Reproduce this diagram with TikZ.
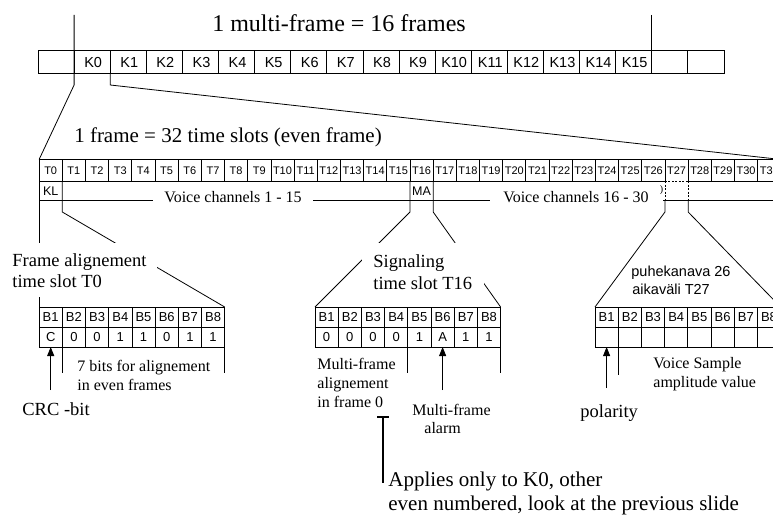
\documentclass[tikz,border=0pt]{standalone}
\usepackage{fontspec}
\setmainfont{Liberation Serif}
\newfontfamily\arialf{Liberation Sans}
\usetikzlibrary{arrows.meta}
\newcommand\fsz[1]{\fontsize{#1}{#1}\selectfont}
\begin{document}
\begin{tikzpicture}[x=1pt,y=-1pt,line width=0.8pt,
  klab/.style={font=\arialf\fsz{14.5},inner sep=0pt},
  tlab/.style={font=\arialf\fsz{11},inner sep=0pt},
  slab/.style={font=\arialf\fsz{12.5},inner sep=0pt},
  blab/.style={font=\arialf\fsz{13},inner sep=0pt},
  sanstxt/.style={font=\arialf\fsz{14.5},inner sep=0pt,anchor=base west},
  bigtxt/.style={font=\fsz{18.5},inner sep=0pt,anchor=base west},
  midtxt/.style={font=\fsz{16},inner sep=0pt,anchor=base west},
  hugetxt/.style={font=\fsz{21},inner sep=0pt,anchor=base west},
  uparrow/.style={-{Triangle[length=9pt,width=7pt]}},
  bar/.style={line width=2pt}]
\useasboundingbox (0,0) rectangle (773,519);
\fill[white] (0,0) rectangle (773,519);

% ---------- multi-frame row ----------
\foreach \i in {0,...,18}{
  \draw ({38+\i*36.1},50.7) rectangle ({38+(\i+1)*36.1},73.7);
}
\foreach \i in {0,...,15}{
  \node[klab] (k\i) at ({39+(\i+1.5)*36.1},62.2) {K\i};
}
\node[font=\fsz{24},inner sep=0pt,anchor=base] (title) at (339,31.5) {1 multi-frame = 16 frames};

\coordinate (ltop) at (74.1,15);
\coordinate (lbend) at (74.1,85);
\coordinate (rtop) at (651.7,15);
\coordinate (rbot) at (651.7,50.7);
\coordinate (k1b) at (110.2,73.7);
\coordinate (k1bend) at (110.2,85);
\coordinate (tleft) at (39.1,159.5);
\coordinate (tright) at (780.9,159.5);
\draw (ltop) -- (lbend) -- (tleft);
\draw (rtop) -- (rbot);
\draw (k1b) -- (k1bend) -- (tright);

\node[font=\fsz{21},inner sep=0pt,anchor=base] (ftitle) at (228,142) {1 frame = 32 time slots (even frame)};

% ---------- time slot row ----------
\draw (tleft) -- (tright);
\foreach \i in {0,...,32}{
  \draw ({39.1+\i*23.18},159.5) -- ({39.1+\i*23.18},181);
}
\foreach \i in {0,...,31}{
  \node[tlab] (t\i) at ({39.1+(\i+0.5)*23.18},170.3) {T\i};
}
\coordinate (t27a) at (664.96,181);
\coordinate (t27b) at (688.14,181);
\draw (39.1,181) -- (t27a);
\draw[dashed,line width=0.6pt,dash pattern=on 2pt off 1.5pt] (t27a) -- (t27b);
\draw (t27b) -- (780.9,181);

% second row
\coordinate (kl1) at (62.28,181);
\coordinate (kl1b) at (62.28,212);
\coordinate (ma0) at (410,181);
\coordinate (ma0b) at (410,212);
\coordinate (ma1) at (433.18,181);
\coordinate (ma1b) at (433.18,212);
\coordinate (d0m) at (664.96,200.5);
\coordinate (d0b) at (664.96,212);
\coordinate (d1m) at (688.14,200.5);
\coordinate (d1b) at (688.14,212);

\coordinate (atl) at (39.1,307);
\coordinate (atr) at (224.7,307);
\coordinate (btl) at (315,307);
\coordinate (btr) at (500.6,307);
\coordinate (ctl) at (595,307);
\coordinate (ctr) at (780.6,307);

\draw (39.1,181) -- (atl);
\draw (kl1) -- (kl1b) -- (atr);
\draw (ma0) -- (ma0b) -- (btl);
\draw (ma1) -- (ma1b) -- (btr);
\draw[dashed,line width=0.6pt,dash pattern=on 2pt off 1.5pt] (t27a) -- (d0m);
\draw[dashed,line width=0.6pt,dash pattern=on 2pt off 1.5pt] (t27b) -- (d1m);
\draw (d0m) -- (d0b) -- (ctl);
\draw (d1m) -- (d1b) -- (ctr);

\draw (39.1,200.5) -- (153,200.5);
\draw (313,200.5) -- (490,200.5);
\draw (663,200.5) -- (780.9,200.5);

\node[slab] (kl) at (50.7,191) {KL};
\node[slab] (ma) at (421.6,191) {MA};
\node[font=\fsz{10},inner sep=0pt] (paren) at (661.5,190.5) {)};
\node[font=\fsz{16},inner sep=0pt,anchor=base] (vc1) at (233,202) {Voice channels 1 - 15};
\node[font=\fsz{16},inner sep=0pt,anchor=base] (vc2) at (576,202) {Voice channels 16 - 30};

% ---------- text blocks covering lines ----------
\fill[white] (3,243) rectangle (157,297);
\node[bigtxt] (fa1) at (12,266) {Frame alignement};
\node[bigtxt] (fa2) at (12,287.3) {time slot T0};
\fill[white] (362,243) rectangle (484,295);
\node[bigtxt] (sg1) at (373,267) {Signaling};
\node[bigtxt] (sg2) at (373,289.5) {time slot T16};
\node[sanstxt] (pk1) at (631,276) {puhekanava 26};
\node[sanstxt] (pk2) at (632,294) {aikaväli T27};

% ---------- bit boxes ----------
\foreach \bx/\nm in {39.1/a,315/b,595/c}{
  \foreach \j in {0,...,7}{
    \draw ({\bx+\j*23.2},307) rectangle ({\bx+(\j+1)*23.2},347);
    \draw ({\bx+\j*23.2},327) -- ({\bx+(\j+1)*23.2},327);
    \pgfmathtruncatemacro\bn{\j+1}
    \node[blab] (\nm b\bn) at ({\bx+(\j+0.5)*23.2},317) {B\bn};
  }
}
\foreach \v [count=\j from 0] in {C,0,0,1,1,0,1,1}{
  \node[blab] (av\j) at ({39.1+(\j+0.5)*23.2},337) {\v};
}
\foreach \v [count=\j from 0] in {0,0,0,0,1,A,1,1}{
  \node[blab] (bv\j) at ({315+(\j+0.5)*23.2},337) {\v};
}

% brackets below boxes
\draw (62.3,347) -- (62.3,373);
\draw (224.7,347) -- (224.7,373);
\draw (407.8,347) -- (407.8,373);
\draw (500.6,347) -- (500.6,373);
\draw (618.2,347) -- (618.2,375);

% arrows
\coordinate (ar1s) at (50.7,390);  \coordinate (ar1e) at (50.7,347);
\coordinate (ar2s) at (442.6,390); \coordinate (ar2e) at (442.6,347);
\coordinate (ar3s) at (606.6,388); \coordinate (ar3e) at (606.6,347);
\draw[uparrow] (ar1s) -- (ar1e);
\draw[uparrow] (ar2s) -- (ar2e);
\draw[uparrow] (ar3s) -- (ar3e);

% ---------- lower texts ----------
\node[midtxt] (sb1) at (77,371.5) {7 bits for alignement};
\node[midtxt] (sb2) at (77,390) {in even frames};
\node[bigtxt] (crc) at (22,415) {CRC -bit};
\node[midtxt] (mf1) at (317,369) {Multi-frame};
\node[midtxt] (mf2) at (317,388) {alignement};
\node[midtxt] (mf3) at (317,407.7) {in frame 0};
\node[midtxt] (al1) at (412,415) {Multi-frame};
\node[midtxt] (al2) at (424,433) {alarm};
\node[bigtxt] (pol) at (580,417) {polarity};
\node[midtxt] (vs1) at (653,368) {Voice Sample};
\node[midtxt] (vs2) at (653,387) {amplitude value};

\coordinate (tbl) at (377,417);
\coordinate (tbr) at (389,417);
\coordinate (tbt) at (383,417);
\coordinate (tbb) at (383,482.7);
\draw[line width=1.6pt] (tbl) -- (tbr);
\draw[bar] (tbt) -- (tbb);
\node[hugetxt] (ap1) at (388,486.7) {Applies only to K0, other};
\node[hugetxt] (ap2) at (388,510) {even numbered, look at the previous slide};
\end{tikzpicture}
\end{document}
